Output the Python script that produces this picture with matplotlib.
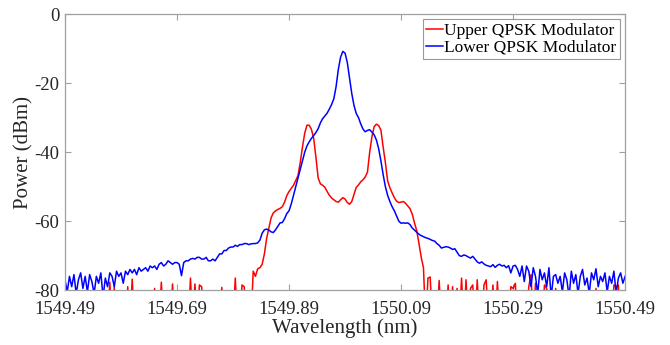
import numpy as np
import matplotlib
matplotlib.use("Agg")
import matplotlib.pyplot as plt

plt.rcParams['font.family'] = ['Liberation Serif', 'DejaVu Serif']
plt.rcParams['axes.unicode_minus'] = False

# OSA sampling grid, 0.004 nm step
wavelength = np.round(np.arange(1549.49, 1550.49 + 1e-9, 0.004), 3)

# Lower QPSK modulator spectrum (dBm), one value per grid point
lower = [
    -77, -80.5, -76, -79, -75.5, -81, -77, -75, -79.5, -76,
    -80.5, -75.5, -77.5, -81, -76, -78, -75, -82, -76.5, -79,
    -75, -76, -79, -74.5, -76, -75, -78, -74.5, -75.5, -74,
    -75, -74, -75.5, -73.5, -74.5, -74, -73.5, -74.5, -73, -73.5,
    -73, -74, -72.5, -72, -73, -72.5, -71.5, -72, -72.5, -72,
    -72, -72.5, -75.8, -72, -71.5, -71.5, -71, -70.8, -71, -70.5,
    -70.5, -71, -71, -70.5, -71.5, -71.5, -71, -71.5, -70.5, -69.5,
    -69.5, -68.5, -68.5, -67.8, -67.5, -67.5, -67, -67.3, -66.8, -66.8,
    -66.5, -66.5, -66.8, -66.6, -66.5, -66.5, -66.3, -65.5, -63.5, -62.5,
    -62.3, -62.6, -63.1, -63.3, -62.5, -61.5, -60.5, -60.4, -59.3, -57.8,
    -57, -55, -52.5, -50, -47.5, -45, -42.5, -40, -38.2, -37,
    -36, -35.2, -34.3, -33.2, -31.5, -30.3, -29.5, -28.7, -27.5, -26.2,
    -24.5, -21, -16, -12.5, -10.8, -11.3, -14, -18.5, -23, -26.5,
    -28.8, -30, -31.8, -33.3, -34.1, -33.7, -33.5, -34.2, -35, -36.5,
    -39, -42.5, -46.5, -50, -52.5, -54.3, -55.8, -57, -58.5, -60,
    -60.6, -60.5, -60.6, -60.5, -61, -62, -62.6, -63.2, -63.8, -64.2,
    -64.5, -64.8, -65, -65.3, -65.6, -65.8, -66.5, -67, -67.8, -67.6,
    -67.4, -67.5, -67.8, -68.2, -68, -69, -70, -70.2, -69.8, -70,
    -70.4, -70.7, -70.2, -71, -71.8, -72.2, -71.8, -72.4, -72.8, -73,
    -73.2, -72.6, -73.4, -72.8, -72.5, -73, -72.8, -73.5, -72.9, -75,
    -73, -72.8, -74, -76, -73, -77.5, -73, -74.5, -79, -73.5,
    -76, -81, -74, -77, -75, -79, -73.5, -82, -76, -75.5,
    -78, -76, -80.5, -75, -77, -82, -74.5, -78, -75.5, -81,
    -76, -74, -78.5, -76.5, -81, -75, -77, -73.8, -79, -76,
    -77.5, -75, -80.5, -76, -78, -74.5, -81, -76.5, -75, -78,
    -76,
]

# Upper QPSK modulator spectrum (dBm); -90 = below the OSA floor
upper = [-90.0] * len(wavelength)
upper_spikes = {
    13: -79.5, 20: -77.7, 22: -79, 28: -79, 30: -76.8, 40: -79.5, 43: -77.7,
    48: -78.2, 56: -76.5, 58: -78.2, 60: -78.5, 61: -79, 70: -79.2, 76: -76.5,
    79: -78.5, 80: -79,
    162: -76.5, 163: -76.2, 167: -77.2, 171: -78.5, 173: -79, 175: -79.5,
    177: -76.5, 179: -77, 181: -79.5, 182: -78.5, 184: -77, 187: -78.5,
    188: -77, 191: -78.5, 193: -77.5, 199: -79, 200: -79.5, 201: -78,
    207: -79, 208: -75.5, 210: -78, 214: -78.5, 215: -79.5, 219: -79.5,
    237: -79.5, 245: -78.5, 246: -79, 247: -78.5,
}
upper_main = [  # grid points 84..160
    -74.5, -76, -73.8, -73.5, -72.5, -69.5, -65, -62, -59, -57.6,
    -57, -56.6, -56.3, -55.8, -54.5, -52.6, -51.4, -50.5, -49.6, -48.2,
    -46.8, -43, -38.5, -34.5, -32.2, -32.2, -33.4, -36, -41.5, -47.5,
    -49.2, -49.6, -50.2, -51.4, -52.5, -53.3, -53.8, -54.3, -54.5, -53.8,
    -53.2, -53.6, -54.6, -55.1, -54.3, -52.3, -50.2, -49.5, -48.6, -48,
    -47.2, -45.8, -40, -35.5, -32.6, -31.9, -32.3, -33.6, -38.5, -43,
    -48.3, -50.3, -51.8, -53.2, -54.2, -54.6, -54.5, -54.3, -54.8, -55.6,
    -56.4, -58, -60.5, -62.8, -66.5, -70.5, -73.5,
]
for k, v in upper_spikes.items():
    upper[k] = v
upper[84:84 + len(upper_main)] = upper_main

xticks = [1549.49, 1549.69, 1549.89, 1550.09, 1550.29, 1550.49]
yticks = [0, -20, -40, -60, -80]

fig = plt.figure(figsize=(6.7, 3.45), dpi=100)
ax = fig.add_axes([0.097, 0.159, 0.836, 0.8])

ax.plot(wavelength, upper, color='#ff0000', lw=1.1, label='Upper QPSK Modulator')
ax.plot(wavelength, lower, color='#0000ff', lw=1.1, label='Lower QPSK Modulator')

ax.set_xlim(1549.49, 1550.49)
ax.set_ylim(-80, 0)
ax.set_xticks(xticks)
ax.set_xticklabels(['%.2f' % t for t in xticks])
ax.set_yticks(yticks)
ax.set_yticklabels([str(t) for t in yticks])

for s in ax.spines.values():
    s.set_color('#a0a0a0')
    s.set_linewidth(0.9)
ax.tick_params(direction='in', top=True, right=True, length=4, width=0.8,
               color='#a0a0a0', labelcolor='#262626', labelsize=13.5)
ax.tick_params(axis='x', pad=8)
ax.tick_params(axis='y', pad=4)

ax.set_xlabel('Wavelength (nm)', fontsize=15, color='#262626', labelpad=0)
ax.set_ylabel('Power (dBm)', fontsize=15, color='#262626', labelpad=1)

leg = ax.legend(loc='upper right', fontsize=12.5, frameon=True, fancybox=False,
                handlelength=1.0, handletextpad=0.05, borderpad=0.2,
                labelspacing=0.05, borderaxespad=0.3)
leg.get_frame().set_edgecolor('#808080')
leg.get_frame().set_linewidth(0.8)

fig.savefig('out.png', dpi=100)
